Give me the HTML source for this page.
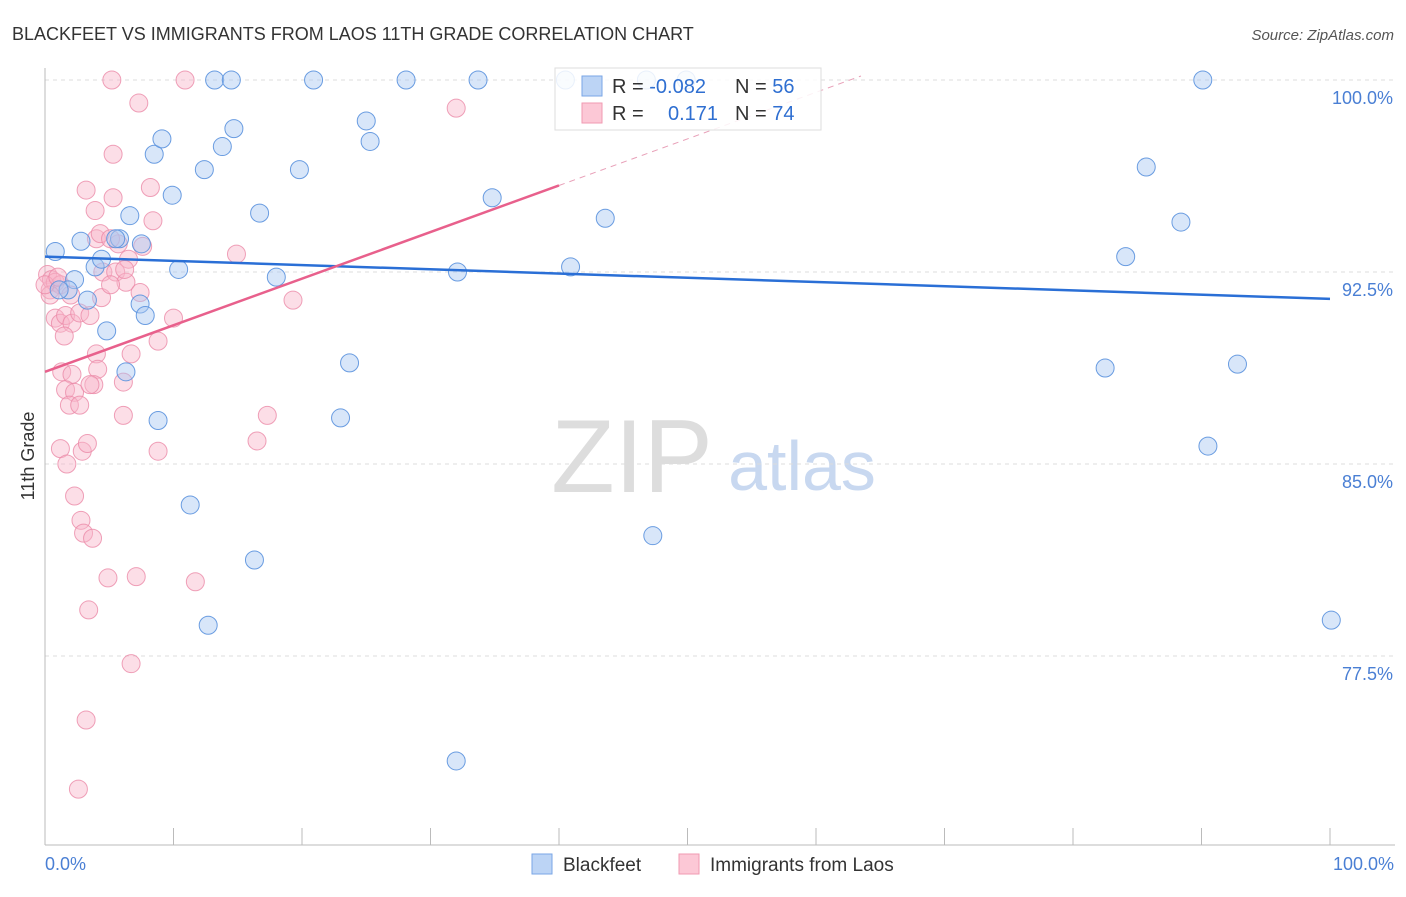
<!DOCTYPE html>
<html><head><meta charset="utf-8"><style>
body{margin:0;background:#fff;font-family:"Liberation Sans",sans-serif}
svg text{font-family:"Liberation Sans",sans-serif}
</style></head><body>
<svg width="1406" height="892">
<text x="12" y="40" font-size="18" fill="#333">BLACKFEET VS IMMIGRANTS FROM LAOS 11TH GRADE CORRELATION CHART</text>
<text x="1394" y="40" font-size="15" fill="#555" text-anchor="end" font-style="italic">Source: ZipAtlas.com</text>
<text x="632" y="492" font-size="104" fill="#ddd" font-family="Liberation Serif" text-anchor="middle">ZIP</text>
<text x="802" y="490" font-size="70" fill="#c8d8f0" text-anchor="middle">atlas</text>
<g id="grid"></g>
<line x1="45" y1="68" x2="45" y2="845" stroke="#bbb"/>
<line x1="45" y1="845" x2="1395" y2="845" stroke="#bbb"/>
<text x="34" y="456" font-size="18" fill="#333" text-anchor="middle" transform="rotate(-90 34 456)">11th Grade</text>
<text x="45" y="870" font-size="18" fill="#4a7fd4">0.0%</text>
<text x="1394" y="870" font-size="18" fill="#4a7fd4" text-anchor="end">100.0%</text>
<g id="pts"></g>
<g id="trends"></g>
<rect x="555" y="68" width="266" height="62" fill="#fff" fill-opacity="0.85" stroke="#ddd"/>
<rect x="582" y="76" width="20" height="20" fill="#bcd4f5" stroke="#7aa6e6"/>
<rect x="582" y="103" width="20" height="20" fill="#fcc8d6" stroke="#f09ab2"/>
<text x="612" y="93" font-size="20" fill="#333">R = <tspan fill="#2f6fd1">-0.082</tspan></text>
<text x="735" y="93" font-size="20" fill="#333">N = <tspan fill="#2f6fd1">56</tspan></text>
<text x="612" y="120" font-size="20" fill="#333">R = <tspan fill="#2f6fd1" x="668">0.171</tspan></text>
<text x="735" y="120" font-size="20" fill="#333">N = <tspan fill="#2f6fd1">74</tspan></text>
<rect x="532" y="854" width="20" height="20" fill="#bcd4f5" stroke="#7aa6e6"/>
<text x="563" y="871" font-size="19" fill="#333">Blackfeet</text>
<rect x="679" y="854" width="20" height="20" fill="#fcc8d6" stroke="#f09ab2"/>
<text x="710" y="871" font-size="19" fill="#333">Immigrants from Laos</text>
</svg>
<script>
const yTicks=[100,92.5,85,77.5];
const yTickLabels=["100.0%","92.5%","85.0%","77.5%"];
const blueX=[0.8,2.8,2.3,1.8,3.3,3.9,4.4,4.8,5.8,5.5,6.6,7.5,7.4,7.8,6.3,8.5,9.1,9.9,10.4,8.8,11.3,12.4,13.2,14.5,13.8,14.7,12.7,16.7,16.3,18.0,19.8,20.9,23.7,23.0,25.0,25.3,28.1,33.7,32.1,32.0,34.8,40.5,40.9,43.6,46.8,47.3,49.9,82.5,84.1,85.7,88.4,90.1,90.5,92.8,100.1,1.1];
const blueY=[93.3,93.7,92.2,91.8,91.4,92.7,93.0,90.2,93.8,93.8,94.7,93.6,91.25,90.8,88.6,97.1,97.7,95.5,92.6,86.7,83.4,96.5,100,100,97.4,98.1,78.7,94.8,81.25,92.3,96.5,100,88.95,86.8,98.4,97.6,100,100,92.5,73.4,95.4,100,92.7,94.6,100,82.2,100,88.75,93.1,96.6,94.45,100,85.7,88.9,78.9,91.8];
const pinkX=[5.2,10.9,7.3,5.3,3.2,5.3,8.2,3.9,8.4,4.0,4.3,5.7,4.5,5.5,6.3,7.4,4.4,0.2,0.4,0.5,0.8,1.2,0.8,1.2,1.6,2.1,1.5,2.7,3.5,4.0,1.3,2.1,4.1,3.8,1.6,2.3,1.9,6.1,6.7,8.8,10.0,6.1,8.8,1.2,2.9,3.3,1.7,2.3,2.8,3.0,3.7,4.9,7.1,11.7,3.4,6.7,3.2,2.6,14.9,19.3,16.5,17.3,32.0,7.6,6.5,5.1,0.4,0,1.0,2.0,3.5,5.1,2.7,6.2];
const pinkY=[100,100,99.1,97.1,95.7,95.4,95.8,94.9,94.5,93.8,94.0,93.6,92.5,92.5,92.1,91.7,91.5,92.4,91.8,92.2,92.1,92.0,90.7,90.5,90.8,90.5,90.0,90.9,90.8,89.3,88.6,88.5,88.7,88.1,87.9,87.8,87.3,88.2,89.3,89.8,90.7,86.9,85.5,85.6,85.5,85.8,85.0,83.75,82.8,82.3,82.1,80.55,80.6,80.4,79.3,77.2,75.0,72.3,93.2,91.4,85.9,86.9,98.9,93.5,93.0,93.8,91.6,92.0,92.3,91.6,88.1,92.0,87.3,92.6];
const blueTrend=[93.1,91.45];
const pinkTrend=[88.6,106.8];
const NS="http://www.w3.org/2000/svg";
const xs=v=>45+v*12.85, ys=v=>80+(100-v)*25.6;
function mk(t,a,p){const e=document.createElementNS(NS,t);for(const k in a)e.setAttribute(k,a[k]);document.getElementById(p).appendChild(e);return e;}
yTicks.forEach((t,i)=>{
 const l=mk('line',{x1:45,x2:1395,y1:ys(t),y2:ys(t),stroke:'#ddd','stroke-dasharray':'4,4'},'grid');
 
 
 const tx=mk('text',{x:1393,y:ys(t)+24,'font-size':18,fill:'#4a7fd4','text-anchor':'end'},'grid');tx.textContent=yTickLabels[i];
 
 
});
for(let i=0;i<=10;i++){
 const l=mk('line',{x1:xs(i*10),x2:xs(i*10),y1:828,y2:845,stroke:'#bbb'},'grid');
 
 
}
pinkX.forEach((x,i)=>{
 const c=mk('circle',{cx:xs(x),cy:ys(pinkY[i]),r:9,fill:'#f8b6ca','fill-opacity':0.45,stroke:'#eb8aa8','stroke-opacity':0.8},'pts');
 
 
});
blueX.forEach((x,i)=>{
 const c=mk('circle',{cx:xs(x),cy:ys(blueY[i]),r:9,fill:'#a9c8f2','fill-opacity':0.45,stroke:'#5b92de','stroke-opacity':0.9},'pts');
 
 
});
const bt=mk('line',{x1:xs(0),y1:ys(blueTrend[0]),x2:xs(100),y2:ys(blueTrend[1]),stroke:'#2a6fd6','stroke-width':2.5},'trends');


const pAt=x=>pinkTrend[0]+(pinkTrend[1]-pinkTrend[0])*x/100;
const pt=mk('line',{x1:xs(0),y1:ys(pAt(0)),x2:xs(40),y2:ys(pAt(40)),stroke:'#e8608c','stroke-width':2.5},'trends');


const pd=mk('line',{x1:xs(40),y1:ys(pAt(40)),x2:xs(63.5),y2:ys(pAt(63.5)),stroke:'#e8a0b8','stroke-width':1,'stroke-dasharray':'6,5'},'trends');


</script>
</body></html>
